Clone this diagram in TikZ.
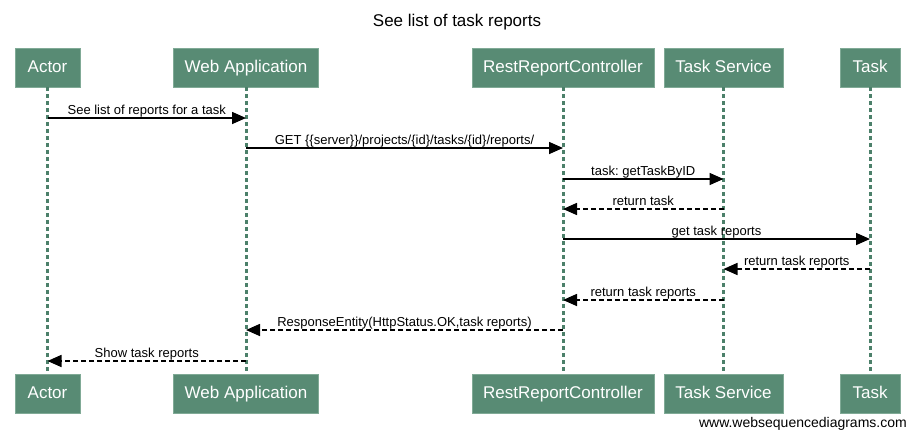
\documentclass[tikz,border=0pt]{standalone}
\usepackage{fontspec}
\setmainfont{Liberation Sans}
\usetikzlibrary{arrows.meta}
\definecolor{boxfill}{RGB}{88,139,116}
\definecolor{boxdraw}{RGB}{128,170,150}
\definecolor{lifecol}{RGB}{76,128,106}
\tikzset{
  actorbox/.style={draw=boxdraw, line width=0.8pt, fill=boxfill, text=white, inner sep=0pt,
    minimum height=39pt, text height=12.5pt, text depth=3.5pt, font=\fontsize{17}{17}\selectfont},
  lifeline/.style={draw=lifecol, line width=3pt, dash pattern=on 4pt off 3pt},
  call/.style={draw=black, line width=1.6pt, -{Triangle[length=14pt,width=12pt]}},
  reply/.style={call, dash pattern=on 5pt off 3pt},
  lbl/.style={midway, anchor=base, yshift=4pt, inner sep=0pt, text=black, font=\fontsize{13}{13}\selectfont}
}
\begin{document}
\begin{tikzpicture}[x=1pt,y=-1pt]
\useasboundingbox[fill=white] (0,0) rectangle (916,437);
\node[font=\fontsize{17}{17}\selectfont, anchor=base] (title) at (457,26) {See list of task reports};
% top boxes
\node[actorbox, minimum width=65pt]  (actT) at (47.5,67.5) {Actor};
\node[actorbox, minimum width=145pt] (webT) at (246,67.5) {Web Application};
\node[actorbox, minimum width=182pt] (rrcT) at (563,67.5) {RestReportController};
\node[actorbox, minimum width=119pt] (tsT)  at (723.5,67.5) {Task Service};
\node[actorbox, minimum width=60pt]  (tkT)  at (870,67.5) {Task};
% bottom boxes
\node[actorbox, minimum width=65pt]  (actB) at (47.5,393.5) {Actor};
\node[actorbox, minimum width=145pt] (webB) at (246,393.5) {Web Application};
\node[actorbox, minimum width=182pt] (rrcB) at (563,393.5) {RestReportController};
\node[actorbox, minimum width=119pt] (tsB)  at (723.5,393.5) {Task Service};
\node[actorbox, minimum width=60pt]  (tkB)  at (870,393.5) {Task};
% lifelines
\foreach \a in {act,web,rrc,ts,tk}{
  \draw[lifeline] (\a T.south) -- (\a B.north);
}
% message rows
\coordinate (y1) at (0,118);
\coordinate (y2) at (0,148);
\coordinate (y3) at (0,179);
\coordinate (y4) at (0,209);
\coordinate (y5) at (0,239);
\coordinate (y6) at (0,269);
\coordinate (y7) at (0,300);
\coordinate (y8) at (0,330);
\coordinate (y9) at (0,361);
\draw[call]  (actT |- y1) -- node[lbl]{See list of reports for a task} (webT |- y1);
\draw[call]  (webT |- y2) -- node[lbl]{GET \{\{server\}\}/projects/\{id\}/tasks/\{id\}/reports/} (rrcT |- y2);
\draw[call]  (rrcT |- y3) -- node[lbl]{task:\ getTaskByID} (tsT |- y3);
\draw[reply] (tsT |- y4) -- node[lbl]{return task} (rrcT |- y4);
\draw[call]  (rrcT |- y5) -- node[lbl]{get task reports} (tkT |- y5);
\draw[reply] (tkT |- y6) -- node[lbl]{return task reports} (tsT |- y6);
\draw[reply] (tsT |- y7) -- node[lbl]{return task reports} (rrcT |- y7);
\draw[reply] (rrcT |- y8) -- node[lbl]{ResponseEntity(HttpStatus.OK,task reports)} (webT |- y8);
\draw[reply] (webT |- y9) -- node[lbl]{Show task reports} (actT |- y9);
\node[font=\fontsize{14}{14}\selectfont, anchor=base east, inner sep=0pt] (footer) at (907,427) {www.websequencediagrams.com};
\end{tikzpicture}
\end{document}
